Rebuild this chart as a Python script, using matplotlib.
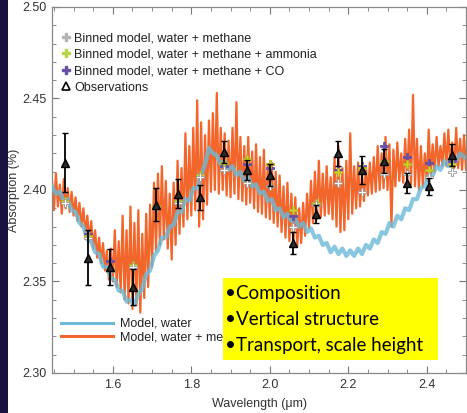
import numpy as np
import matplotlib
matplotlib.use("Agg")
from matplotlib import pyplot as plt
from matplotlib.lines import Line2D
from matplotlib.patches import Rectangle
from matplotlib.ticker import MultipleLocator, FormatStrFormatter

plt.rcParams["font.family"] = ["Liberation Sans", "DejaVu Sans"]

# high resolution model spectra, read as peak / trough pairs every 0.01 um
wl_start = 1.445
water_methane_peaks = [
    2.405, 2.409, 2.403, 2.406, 2.401, 2.399, 2.396, 2.393, 2.390, 2.386,
    2.383, 2.378, 2.374, 2.371, 2.367, 2.368, 2.378, 2.372, 2.386, 2.378,
    2.391, 2.382, 2.389, 2.376, 2.387, 2.392, 2.404, 2.409, 2.413, 2.405,
    2.398, 2.404, 2.416, 2.412, 2.431, 2.424, 2.434, 2.449, 2.437, 2.430,
    2.438, 2.442, 2.453, 2.434, 2.431, 2.427, 2.434, 2.448, 2.429, 2.424,
    2.429, 2.421, 2.425, 2.418, 2.422, 2.414, 2.415, 2.410, 2.408, 2.402,
    2.404, 2.398, 2.396, 2.390, 2.393, 2.398, 2.405, 2.410, 2.416, 2.409,
    2.413, 2.407, 2.418, 2.424, 2.412, 2.416, 2.431, 2.413, 2.415, 2.409,
    2.413, 2.415, 2.418, 2.424, 2.420, 2.429, 2.425, 2.422, 2.426, 2.420,
    2.428, 2.433, 2.452, 2.428, 2.424, 2.420, 2.433, 2.425, 2.429, 2.424,
    2.431, 2.433, 2.426, 2.434, 2.428, 2.430,
]
water_methane_troughs = [
    2.389, 2.391, 2.387, 2.390, 2.388, 2.386, 2.383, 2.380, 2.376, 2.372,
    2.368, 2.363, 2.360, 2.356, 2.351, 2.350, 2.347, 2.344, 2.340, 2.338,
    2.335, 2.337, 2.333, 2.341, 2.347, 2.358, 2.367, 2.370, 2.373, 2.368,
    2.362, 2.370, 2.376, 2.380, 2.384, 2.386, 2.389, 2.380, 2.384, 2.392,
    2.399, 2.400, 2.398, 2.400, 2.397, 2.396, 2.398, 2.395, 2.394, 2.392,
    2.393, 2.390, 2.388, 2.387, 2.385, 2.384, 2.382, 2.380, 2.377, 2.374,
    2.372, 2.370, 2.369, 2.371, 2.375, 2.379, 2.382, 2.384, 2.385, 2.386,
    2.387, 2.384, 2.380, 2.377, 2.378, 2.384, 2.387, 2.390, 2.391, 2.394,
    2.397, 2.398, 2.399, 2.400, 2.401, 2.400, 2.380, 2.402, 2.405, 2.404,
    2.404, 2.403, 2.402, 2.400, 2.402, 2.405, 2.407, 2.410, 2.413, 2.413,
    2.413, 2.413, 2.412, 2.412, 2.411, 2.411,
]
water_model = [
    2.402, 2.398, 2.399, 2.394, 2.395, 2.389, 2.388, 2.382, 2.380, 2.373,
    2.372, 2.366, 2.365, 2.358, 2.358, 2.352, 2.351, 2.345, 2.345, 2.339,
    2.340, 2.337, 2.343, 2.346, 2.354, 2.356, 2.364, 2.367, 2.374, 2.374,
    2.380, 2.381, 2.388, 2.388, 2.395, 2.394, 2.401, 2.401, 2.408, 2.414,
    2.423, 2.420, 2.419, 2.414, 2.416, 2.411, 2.413, 2.408, 2.410, 2.405,
    2.407, 2.402, 2.403, 2.398, 2.399, 2.394, 2.395, 2.389, 2.390, 2.385,
    2.387, 2.383, 2.384, 2.380, 2.382, 2.377, 2.379, 2.374, 2.375, 2.370,
    2.371, 2.366, 2.369, 2.365, 2.368, 2.364, 2.367, 2.364, 2.368, 2.365,
    2.370, 2.368, 2.373, 2.371, 2.377, 2.376, 2.382, 2.380, 2.386, 2.384,
    2.390, 2.389, 2.395, 2.395, 2.401, 2.402, 2.408, 2.408, 2.413, 2.411,
    2.416, 2.413, 2.418, 2.416, 2.420, 2.418,
]

# binned models and observations
bin_wl = [1.478, 1.536, 1.592, 1.651, 1.710, 1.766, 1.822, 1.883, 1.941,
          2.000, 2.059, 2.117, 2.173, 2.234, 2.290, 2.349, 2.405, 2.464]
binned_wm = [2.393, 2.374, 2.356, 2.358, 2.390, 2.393, 2.407, 2.411, 2.404,
             2.402, 2.380, 2.392, 2.404, 2.399, 2.409, 2.409, 2.407, 2.410]
binned_wm_nh3 = [2.394, 2.375, 2.357, 2.359, 2.391, 2.394, 2.408, 2.415, 2.417,
                 2.414, 2.389, 2.393, 2.410, 2.412, 2.416, 2.414, 2.411, 2.414]
binned_wm_co = [2.394, 2.376, 2.361, 2.359, 2.391, 2.394, 2.408, 2.413, 2.414,
                2.412, 2.386, 2.393, 2.411, 2.413, 2.424, 2.418, 2.415, 2.416]
obs = [2.415, 2.363, 2.358, 2.347, 2.392, 2.398, 2.396, 2.421, 2.411,
       2.408, 2.371, 2.387, 2.420, 2.411, 2.416, 2.404, 2.402, 2.419]
obs_err = [0.016, 0.015, 0.0097, 0.010, 0.009, 0.008, 0.007, 0.006, 0.0055,
           0.006, 0.006, 0.005, 0.007, 0.0075, 0.0065, 0.0055, 0.0048, 0.006]

ORANGE = "#f2652b"
BLUE = "#6bbad8"
GREY_PLUS = "#b4b4b4"
NH3 = "#cfd62a"
CO = "#6a4fa6"

fig = plt.figure(figsize=(4.67, 4.13), dpi=100)
ax = fig.add_axes([52 / 467, 40 / 413, 414 / 467, 366 / 413])

n = len(water_methane_peaks)
wl = wl_start + 0.01 * np.arange(n)
x_wm = np.empty(2 * n)
y_wm = np.empty(2 * n)
x_wm[0::2], x_wm[1::2] = wl, wl + 0.005
y_wm[0::2], y_wm[1::2] = water_methane_peaks, water_methane_troughs

ax.plot(x_wm, y_wm, color=ORANGE, lw=1.6, zorder=2)
ax.plot(wl, water_model, color=BLUE, lw=3.0, alpha=0.8, zorder=3)

pkw = dict(ls="none", marker="P", ms=6, mew=0.6, zorder=5)
ax.plot(bin_wl, binned_wm_co, mfc=CO, mec=CO, **pkw)
ax.plot(bin_wl, binned_wm_nh3, mfc=NH3, mec="#b8b020", **pkw)
ax.plot(bin_wl, binned_wm, mfc="white", mec="#999999", **pkw)
ax.errorbar(bin_wl, obs, yerr=obs_err, fmt="^", ms=6, mfc="#2a2a2a", mec="black",
            mew=1.0, ecolor="black", elinewidth=1.3, capsize=2.5, capthick=1.3,
            zorder=6)

ax.set_xlim(1.445, 2.50)
ax.set_ylim(2.30, 2.50)
ax.xaxis.set_major_locator(MultipleLocator(0.2))
ax.xaxis.set_minor_locator(MultipleLocator(0.05))
ax.yaxis.set_major_locator(MultipleLocator(0.05))
ax.yaxis.set_minor_locator(MultipleLocator(0.01))
ax.xaxis.set_major_formatter(FormatStrFormatter("%.1f"))
ax.yaxis.set_major_formatter(FormatStrFormatter("%.2f"))
ax.tick_params(which="both", direction="in", top=True, right=True,
               color="#777777", labelsize=9, labelcolor="#333333")
ax.tick_params(which="major", length=5, width=0.8, pad=4)
ax.tick_params(which="minor", length=3, width=0.6)
for sp in ax.spines.values():
    sp.set_color("#888888")
    sp.set_linewidth(0.9)
ax.set_xlabel("Wavelength (\u03bcm)", fontsize=9, color="#333333", labelpad=5)
ax.set_ylabel("Absorption (%)", fontsize=9, color="#333333")
ax.yaxis.set_label_coords(-32 / 414, 0.5)

top_handles = [
    Line2D([], [], ls="none", marker="P", ms=6, mfc=GREY_PLUS, mec=GREY_PLUS),
    Line2D([], [], ls="none", marker="P", ms=6, mfc="#b8d44a", mec="#b8d44a"),
    Line2D([], [], ls="none", marker="P", ms=6, mfc=CO, mec=CO),
    Line2D([], [], ls="none", marker="^", ms=6, mfc="white", mec="black", mew=1.2),
]
top_labels = ["Binned model, water + methane",
              "Binned model, water + methane + ammonia",
              "Binned model, water + methane + CO",
              "Observations"]
leg1 = ax.legend(top_handles, top_labels, loc="upper left",
                 bbox_to_anchor=(0.0, 0.955), frameon=False, fontsize=9,
                 handlelength=0.8, handletextpad=0.3, labelspacing=0.36,
                 borderaxespad=0.3)
for t in leg1.get_texts():
    t.set_color("#222222")
ax.add_artist(leg1)

line_handles = [Line2D([], [], color=BLUE, lw=2.2),
                Line2D([], [], color=ORANGE, lw=2.2)]
leg2 = ax.legend(line_handles, ["Model, water", "Model, water + methane"],
                 loc="lower left", bbox_to_anchor=(0.0, 0.057), frameon=False,
                 fontsize=9, handlelength=4.2, handletextpad=0.5,
                 labelspacing=0.12, borderaxespad=0.3)
for t in leg2.get_texts():
    t.set_color("#222222")

# slide decorations
fig.add_artist(Rectangle((0, 0), 8 / 467, 1, transform=fig.transFigure,
                         facecolor="#1b1140", edgecolor="none", zorder=10))
fig.add_artist(Rectangle((223 / 467, 1 - 360 / 413), 215 / 467, 82 / 413,
                         transform=fig.transFigure, facecolor="#ffff00",
                         edgecolor="none", zorder=10))
for i, txt in enumerate(["\u2022Composition", "\u2022Vertical structure",
                         "\u2022Transport, scale height"]):
    fig.text(225 / 467, 1 - (294 + 25.5 * i) / 413, txt, fontsize=13.5,
             family=["Lato", "DejaVu Sans"], color="black", va="center",
             ha="left", zorder=11)

fig.savefig("out.png", dpi=100)
